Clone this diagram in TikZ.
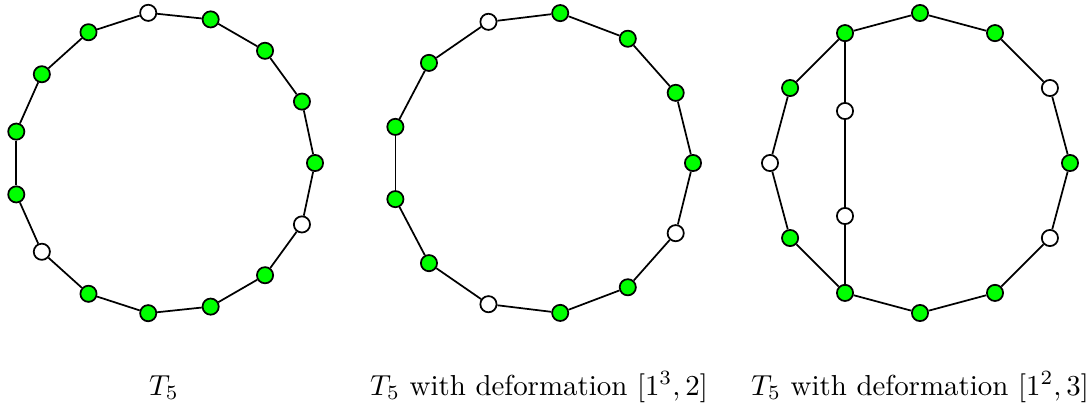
\documentclass[tikz,border=0pt]{standalone}
\begin{document}
\tikzset{
  gv/.style={circle,draw,line width=0.6pt,fill=green,minimum size=5.6pt,inner sep=0pt},
  wv/.style={gv,fill=white},
  edge/.style={line width=0.6pt},
  lbl/.style={anchor=base,inner sep=0pt}
}
\begin{tikzpicture}[x=0.346pt,y=-0.346pt]
\useasboundingbox (0,0) rectangle (1089,408);
% graph 1: 15-cycle
\foreach \k/\s in {0/gv,1/gv,2/gv,3/gv,4/wv,5/gv,6/gv,7/gv,8/gv,9/wv,10/gv,11/gv,12/gv,13/gv,14/wv}
  \node[\s] (a\k) at ({164+151*cos(24*\k)},{163-151*sin(24*\k)}) {};
\foreach \k in {0,...,14}{\pgfmathtruncatemacro\n{mod(\k+1,15)}\draw[edge] (a\k) -- (a\n);}
% graph 2: 13-cycle
\foreach \k/\s in {0/gv,1/gv,2/gv,3/gv,4/wv,5/gv,6/gv,7/gv,8/gv,9/wv,10/gv,11/gv,12/wv}
  \node[\s] (b\k) at ({542+151*cos(360/13*\k)},{163-151*sin(360/13*\k)}) {};
\foreach \k in {0,...,12}{\pgfmathtruncatemacro\n{mod(\k+1,13)}\draw[edge] (b\k) -- (b\n);}
% graph 3: 12-cycle with chord
\foreach \k/\s in {0/gv,1/wv,2/gv,3/gv,4/gv,5/gv,6/wv,7/gv,8/gv,9/gv,10/gv,11/wv}
  \node[\s] (c\k) at ({920+150*cos(30*\k)},{163-150*sin(30*\k)}) {};
\foreach \k in {0,...,11}{\pgfmathtruncatemacro\n{mod(\k+1,12)}\draw[edge] (c\k) -- (c\n);}
\node[wv] (ci1) at (845,111) {};
\node[wv] (ci2) at (845,216) {};
\draw[edge] (c4) -- (ci1) -- (ci2) -- (c8);
% labels
\node[lbl] (l1) at (164,395) {$T_5$};
\node[lbl] (l2) at (539,395) {$T_5$ with deformation $[1^3,2]$};
\node[lbl] (l3) at (920,395) {$T_5$ with deformation $[1^2,3]$};
\end{tikzpicture}
\end{document}
